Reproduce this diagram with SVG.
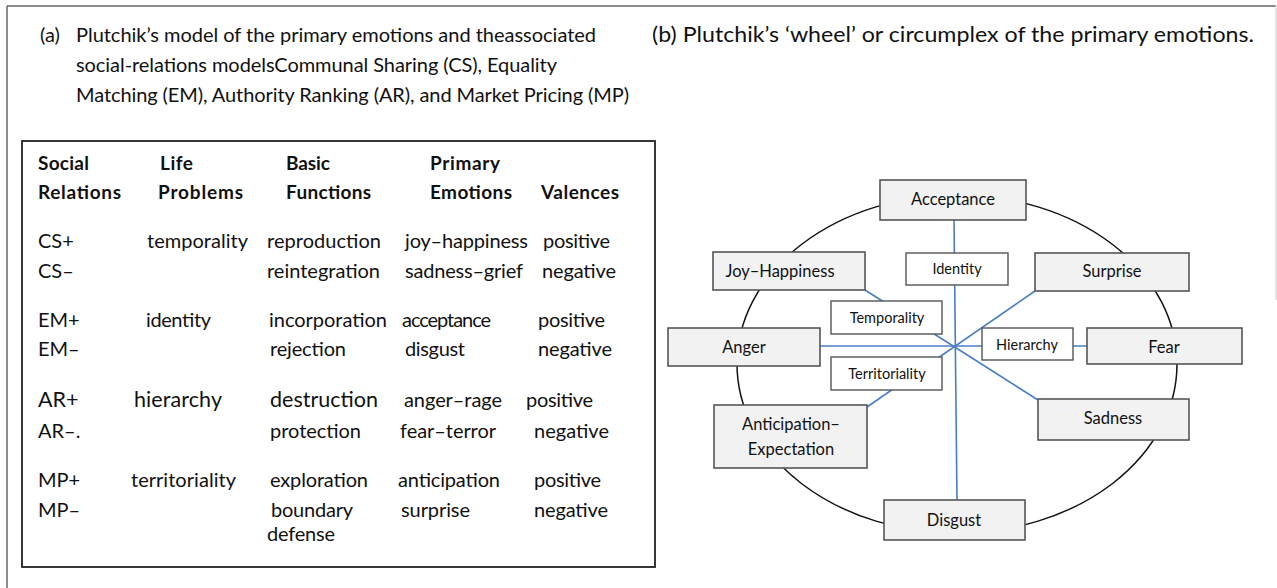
<svg xmlns="http://www.w3.org/2000/svg" width="1277" height="588" viewBox="0 0 1277 588">
<style>
text{font-family:Lato,"Liberation Sans",sans-serif;fill:#111;}
.t{font-size:20px;}
.tb{font-size:20.5px;}
.h{font-size:19px;font-weight:bold;}
.r{font-size:20px;}
.r2{font-size:21.5px;}
.lab{font-size:16.5px;text-anchor:middle;}
.in{font-size:14.5px;text-anchor:middle;}
.emo{fill:#f2f2f2;stroke:#555;stroke-width:1.6;}
.inner{fill:#fff;stroke:#555;stroke-width:1.4;}
.con line{stroke:#4a7ec4;stroke-width:1.6;}
</style>
<rect width="1277" height="588" fill="#fff"/>
<g id="frame" stroke="#666" stroke-width="1.5" fill="none">
<line x1="7" y1="6" x2="1276" y2="6"/>
<line x1="7" y1="6" x2="7" y2="588"/>
<line x1="1276" y1="6" x2="1276" y2="300" stroke="#ddd"/>
</g>
<g id="title-a">
<text class="t" x="40" y="42">(a)</text>
<text class="t" x="76" y="42" textLength="520">Plutchik’s model of the primary emotions and theassociated</text>
<text class="t" x="76" y="72" textLength="481">social-relations modelsCommunal Sharing (CS), Equality</text>
<text class="t" x="76" y="102" textLength="553">Matching (EM), Authority Ranking (AR), and Market Pricing (MP)</text>
</g>
<g id="title-b">
<text class="tb" x="652" y="42" textLength="602" lengthAdjust="spacingAndGlyphs">(b) Plutchik’s ‘wheel’ or circumplex of the primary emotions.</text>
</g>
<g id="table">
<rect x="22" y="141" width="633" height="426" fill="#fff" stroke="#222" stroke-width="1.8"/>
<text class="h" x="38" y="170" textLength="51">Social</text>
<text class="h" x="160" y="170" textLength="33">Life</text>
<text class="h" x="286" y="170" textLength="44">Basic</text>
<text class="h" x="430" y="170" textLength="70">Primary</text>
<text class="h" x="38" y="199" textLength="83">Relations</text>
<text class="h" x="158" y="199" textLength="85">Problems</text>
<text class="h" x="286" y="199" textLength="85">Functions</text>
<text class="h" x="430" y="199" textLength="82">Emotions</text>
<text class="h" x="541" y="199" textLength="78">Valences</text>

<text class="r" x="38" y="248">CS+</text>
<text class="r" x="147" y="248" textLength="101">temporality</text>
<text class="r" x="267" y="248" textLength="114">reproduction</text>
<text class="r" x="405" y="248" textLength="123">joy–happiness</text>
<text class="r" x="543" y="248" textLength="67">positive</text>

<text class="r" x="38" y="278">CS–</text>
<text class="r" x="267" y="278" textLength="113">reintegration</text>
<text class="r" x="405" y="278" textLength="118">sadness–grief</text>
<text class="r" x="542" y="278" textLength="74">negative</text>

<text class="r" x="38" y="327">EM+</text>
<text class="r" x="146" y="327" textLength="65">identity</text>
<text class="r" x="269" y="327" textLength="118">incorporation</text>
<text class="r" x="402" y="327" textLength="89">acceptance</text>
<text class="r" x="538" y="327" textLength="67">positive</text>

<text class="r" x="38" y="356">EM–</text>
<text class="r" x="270" y="356" textLength="76">rejection</text>
<text class="r" x="405" y="356" textLength="60">disgust</text>
<text class="r" x="538" y="356" textLength="74">negative</text>

<text class="r2" x="38" y="407">AR+</text>
<text class="r2" x="134" y="407" textLength="88">hierarchy</text>
<text class="r2" x="270" y="407" textLength="108">destruction</text>
<text class="r" x="404" y="407" textLength="98">anger–rage</text>
<text class="r" x="526" y="407" textLength="67">positive</text>

<text class="r" x="38" y="438">AR–.</text>
<text class="r" x="270" y="438" textLength="91">protection</text>
<text class="r" x="400" y="438" textLength="96">fear–terror</text>
<text class="r" x="534" y="438" textLength="75">negative</text>

<text class="r" x="38" y="487">MP+</text>
<text class="r" x="131" y="487" textLength="105">territoriality</text>
<text class="r" x="270" y="487" textLength="98">exploration</text>
<text class="r" x="398" y="487" textLength="102">anticipation</text>
<text class="r" x="534" y="487" textLength="67">positive</text>

<text class="r" x="38" y="517">MP–</text>
<text class="r" x="271" y="517" textLength="82">boundary</text>
<text class="r" x="401" y="517" textLength="69">surprise</text>
<text class="r" x="534" y="517" textLength="74">negative</text>
<text class="r" x="267" y="541" textLength="68">defense</text>
</g>
<g id="wheel">
<ellipse cx="957" cy="364" rx="220" ry="169" fill="#fff" stroke="#111" stroke-width="1.5"/>
</g>
<g class="con" id="connectors">
<line x1="954" y1="220" x2="957" y2="500"/>
<line x1="820" y1="346" x2="1087" y2="346"/>
<line x1="865" y1="290" x2="1038" y2="400"/>
<line x1="1035" y1="291" x2="867" y2="407"/>
</g>
<g id="n-acceptance"><rect class="emo" x="880" y="180" width="146" height="40"/><text class="lab" x="953" y="205">Acceptance</text></g>
<g id="n-identity"><rect class="inner" x="906" y="253" width="102" height="32"/><text class="in" x="957" y="274">Identity</text></g>
<g id="n-joy"><rect class="emo" x="713" y="252" width="152" height="38"/><text class="lab" x="780" y="277">Joy–Happiness</text></g>
<g id="n-surprise"><rect class="emo" x="1035" y="253" width="154" height="38"/><text class="lab" x="1112" y="277">Surprise</text></g>
<g id="n-temporality"><rect class="inner" x="831" y="301" width="111" height="33"/><text class="in" x="887" y="323">Temporality</text></g>
<g id="n-anger"><rect class="emo" x="668" y="328" width="152" height="38"/><text class="lab" x="744" y="353">Anger</text></g>
<g id="n-hierarchy"><rect class="inner" x="982" y="328" width="91" height="32"/><text class="in" x="1027" y="350">Hierarchy</text></g>
<g id="n-fear"><rect class="emo" x="1087" y="328" width="155" height="36"/><text class="lab" x="1164" y="353">Fear</text></g>
<g id="n-territoriality"><rect class="inner" x="831" y="357" width="111" height="33"/><text class="in" x="887" y="379">Territoriality</text></g>
<g id="n-sadness"><rect class="emo" x="1038" y="399" width="151" height="41"/><text class="lab" x="1113" y="424">Sadness</text></g>
<g id="n-anticipation"><rect class="emo" x="714" y="405" width="153" height="63"/><text class="lab" x="791" y="430">Anticipation–</text><text class="lab" x="791" y="455">Expectation</text></g>
<g id="n-disgust"><rect class="emo" x="884" y="500" width="141" height="40"/><text class="lab" x="954" y="526">Disgust</text></g>
</svg>
